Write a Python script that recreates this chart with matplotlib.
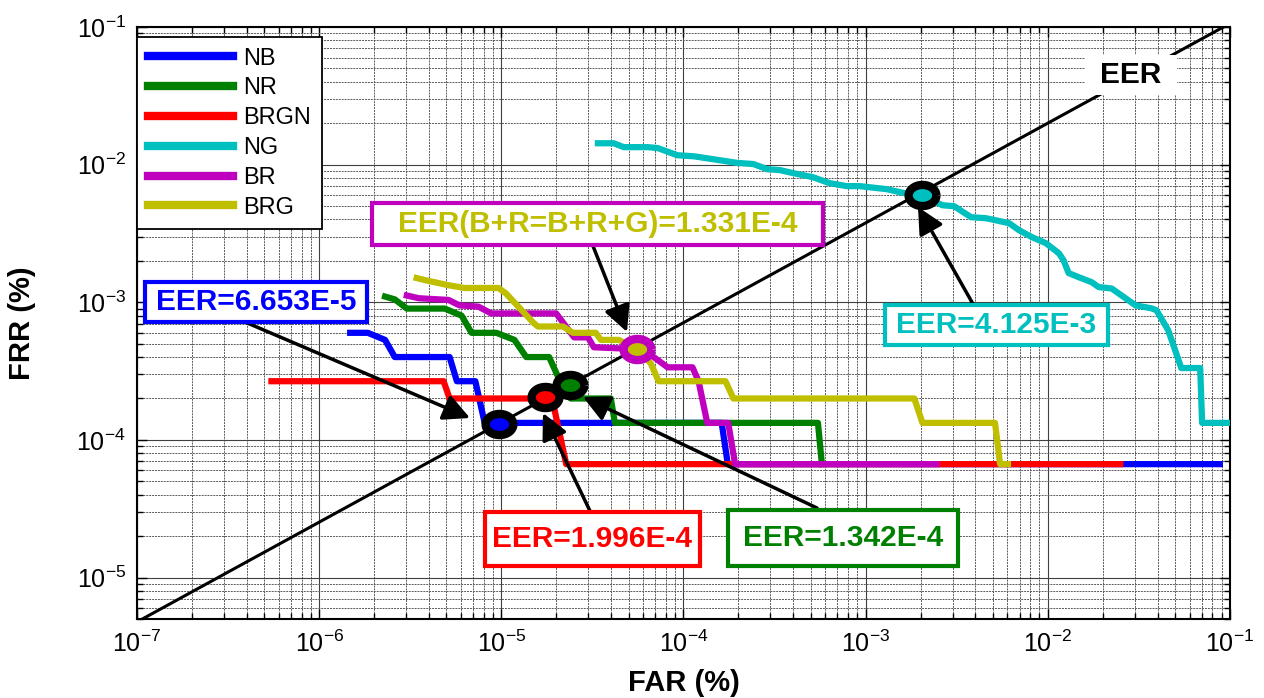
import numpy as np
import matplotlib.pyplot as plt
from matplotlib.patches import Rectangle

plt.rcParams['font.family'] = ['Liberation Sans', 'DejaVu Sans']
plt.rcParams['mathtext.default'] = 'regular'

# FAR / FRR traces (%)
nb_far = [1.48e-6, 1.85e-6, 2.3e-6, 2.6e-6, 5.2e-6, 5.7e-6, 7.2e-6, 8.1e-6, 1.62e-4, 1.75e-4, 8.8e-2]
nb_frr = [6.0e-4, 6.0e-4, 5.33e-4, 4.0e-4, 4.0e-4, 2.67e-4, 2.67e-4, 1.33e-4, 1.33e-4, 6.67e-5, 6.67e-5]

nr_far = [2.3e-6, 2.6e-6, 3.03e-6, 4.89e-6, 6.05e-6, 6.86e-6, 9.4e-6, 1.18e-5, 1.37e-5,
          1.83e-5, 2.1e-5, 2.4e-5, 3.99e-5, 4.2e-5, 5.47e-4, 5.75e-4]
nr_frr = [1.1e-3, 1.05e-3, 9.0e-4, 9.0e-4, 8.0e-4, 6.0e-4, 6.0e-4, 5.33e-4, 4.0e-4,
          4.0e-4, 2.67e-4, 2.0e-4, 2.0e-4, 1.33e-4, 1.33e-4, 6.67e-5]

brgn_far = [5.47e-7, 4.82e-6, 5.2e-6, 1.9e-5, 2.27e-5, 2.5e-2]
brgn_frr = [2.67e-4, 2.67e-4, 2.0e-4, 2.0e-4, 6.67e-5, 6.67e-5]

ng_far = [3.39e-5, 4.14e-5, 4.70e-5, 6.35e-5, 7.21e-5, 9.27e-5, 1.14e-4, 1.97e-4, 2.42e-4,
          2.88e-4, 3.39e-4, 3.99e-4, 5.13e-4, 6.35e-4, 7.87e-4, 9.27e-4, 1.30e-3, 1.63e-3,
          2.02e-3, 2.64e-3, 3.06e-3, 3.79e-3, 4.58e-3, 6.12e-3, 6.95e-3, 8.19e-3, 9.75e-3,
          1.15e-2, 1.22e-2, 1.30e-2, 1.48e-2, 1.74e-2, 1.90e-2, 2.24e-2, 2.67e-2, 3.03e-2,
          3.70e-2, 3.95e-2, 4.58e-2, 5.00e-2, 5.40e-2, 6.86e-2, 7.03e-2, 1.0e-1]
ng_frr = [1.43e-2, 1.43e-2, 1.34e-2, 1.34e-2, 1.32e-2, 1.17e-2, 1.15e-2, 1.03e-2, 1.01e-2,
          9.27e-3, 9.12e-3, 8.68e-3, 8.11e-3, 7.33e-3, 6.98e-3, 6.98e-3, 6.64e-3, 6.21e-3,
          6.0e-3, 5.07e-3, 4.99e-3, 4.15e-3, 4.08e-3, 3.76e-3, 3.34e-3, 2.97e-3, 2.69e-3,
          2.27e-3, 2.02e-3, 1.63e-3, 1.52e-3, 1.40e-3, 1.29e-3, 1.26e-3, 1.07e-3, 9.5e-4,
          9.04e-4, 8.75e-4, 6.26e-4, 4.48e-4, 3.33e-4, 3.33e-4, 1.33e-4, 1.33e-4]

br_far = [3.03e-6, 3.52e-6, 5.13e-6, 5.89e-6, 7.48e-6, 8.8e-6, 2.0e-5, 2.51e-5, 2.99e-5,
          3.22e-5, 5.55e-5, 6.86e-5, 8.18e-5, 1.12e-4, 1.21e-4, 1.35e-4, 1.76e-4, 1.92e-4, 2.44e-3]
br_frr = [1.12e-3, 1.07e-3, 1.04e-3, 9.5e-4, 9.3e-4, 8.3e-4, 8.3e-4, 5.56e-4, 5.56e-4,
          4.71e-4, 4.57e-4, 4.0e-4, 3.37e-4, 3.37e-4, 2.67e-4, 1.33e-4, 1.33e-4, 6.67e-5, 6.67e-5]

brg_far = [3.43e-6, 3.8e-6, 5.13e-6, 6.28e-6, 9.64e-6, 1.06e-5, 1.51e-5, 1.59e-5, 2.18e-5,
           2.47e-5, 3.30e-5, 3.52e-5, 4.41e-5, 5.55e-5, 6.61e-5, 7.30e-5, 1.70e-4, 1.88e-4,
           1.85e-3, 2.05e-3, 5.13e-3, 5.47e-3, 6.04e-3]
brg_frr = [1.5e-3, 1.45e-3, 1.33e-3, 1.27e-3, 1.27e-3, 1.16e-3, 7.03e-4, 6.67e-4, 6.67e-4,
           6.0e-4, 6.0e-4, 5.33e-4, 5.33e-4, 4.57e-4, 3.6e-4, 2.67e-4, 2.67e-4, 2.0e-4,
           2.0e-4, 1.33e-4, 1.33e-4, 6.67e-5, 6.67e-5]

# EER reference line and the operating points on it
eer_line_far = [1.07e-7, 9.2e-2]
eer_line_frr = [5e-6, 1e-1]

names = ['NB', 'NR', 'BRGN', 'NG', 'BR', 'BRG']
colors = ['#0000ff', '#008000', '#ff0000', '#00bfbf', '#bf00bf', '#bfbf00']
eer_far = [9.7e-6, 2.38e-5, 1.73e-5, 2.03e-3, 5.55e-5]
eer_frr = [1.30e-4, 2.50e-4, 2.05e-4, 6.01e-3, 4.57e-4]

curves = [(nb_far, nb_frr), (nr_far, nr_frr), (brgn_far, brgn_frr),
          (ng_far, ng_frr), (br_far, br_frr), (brg_far, brg_frr)]

W, H = 1264, 698
fig = plt.figure(figsize=(W / 100, H / 100), dpi=100)
ax = fig.add_axes([137 / W, 1 - 619 / H, 1093 / W, 592 / H])
ax.set_xscale('log')
ax.set_yscale('log')
ax.set_xlim(1e-7, 1e-1)
ax.set_ylim(5e-6, 1e-1)

ax.grid(True, which='major', color='0.25', lw=0.8)
ax.grid(True, which='minor', color='0.35', lw=0.7, ls=(0, (2, 1)))
ax.set_axisbelow(True)

for (fx, fy), name, c in zip(curves, names, colors):
    ax.plot(fx, fy, color=c, lw=4.5, label=name, zorder=3)

ax.plot(eer_line_far, eer_line_frr, color='k', lw=2.2, zorder=4)

# elliptical ring markers for the EER points
t = np.linspace(0, 2 * np.pi, 60)
ell = np.column_stack([np.cos(t), 0.76 * np.sin(t)])
ring = ['k', 'k', 'k', 'k', colors[4]]
fill = [colors[0], colors[1], colors[2], colors[3], colors[5]]
for x, y, ec, fc in zip(eer_far, eer_frr, ring, fill):
    ax.plot([x], [y], ls='none', marker=ell, ms=20, mew=6, mec=ec, mfc=fc, zorder=6)

ax.tick_params(which='both', direction='in', top=True, right=True, width=1)
ax.tick_params(which='major', length=7, labelsize=18, pad=8)
ax.tick_params(which='minor', length=4)
for s in ax.spines.values():
    s.set_linewidth(1.5)

ax.set_xlabel('FAR (%)', fontsize=21, fontweight='bold')
ax.set_ylabel('FRR (%)', fontsize=21, fontweight='bold')
ax.xaxis.set_label_coords(0.5, -0.085)
ax.yaxis.set_label_coords(-0.092, 0.5)

leg = ax.legend(loc='upper left', bbox_to_anchor=(0, 1 - 10 / 592), borderaxespad=0,
                fontsize=17, handlelength=3.6, handletextpad=0.45, labelspacing=0.33,
                borderpad=0.45, fancybox=False, framealpha=1, edgecolor='k')
leg.get_frame().set_linewidth(1.3)
for ln in leg.get_lines():
    ln.set_linewidth(6)


def px_box(x0, y0, x1, y1, text, edge, tcolor, lw=3.0):
    fig.add_artist(Rectangle((x0 / W, 1 - y1 / H), (x1 - x0) / W, (y1 - y0) / H,
                             transform=fig.transFigure, fc='white',
                             ec=edge if edge else 'white', lw=lw if edge else 0, zorder=10))
    fig.text((x0 + x1) / 2 / W, 1 - (y0 + y1) / 2 / H, text, color=tcolor, fontsize=21.5,
             fontweight='bold', ha='center', va='center', zorder=11)


def px_arrow(tail, tip):
    ax.annotate('', xy=(tip[0], H - tip[1]), xycoords='figure pixels',
                xytext=(tail[0], H - tail[1]), textcoords='figure pixels',
                arrowprops=dict(arrowstyle='-|>,head_length=0.8,head_width=0.4',
                                mutation_scale=20, lw=2.5, color='k',
                                shrinkA=0, shrinkB=0), zorder=9)


px_arrow((245, 322), (470, 418))
px_arrow((590, 511), (543, 413))
px_arrow((817, 508), (583, 397))
px_arrow((593, 246), (627, 332))
px_arrow((973, 304), (918, 207))

px_box(145, 282, 367, 322, 'EER=6.653E-5', colors[0], colors[0])
px_box(485, 512, 700, 566, 'EER=1.996E-4', colors[2], colors[2])
px_box(728, 510, 958, 566, 'EER=1.342E-4', colors[1], colors[1])
px_box(372, 203, 823, 245, 'EER(B+R=B+R+G)=1.331E-4', colors[4], colors[5])
px_box(885, 305, 1108, 345, 'EER=4.125E-3', colors[3], colors[3])
px_box(1085, 55, 1177, 95, 'EER', None, 'k')

fig.savefig('out.png', dpi=100)
